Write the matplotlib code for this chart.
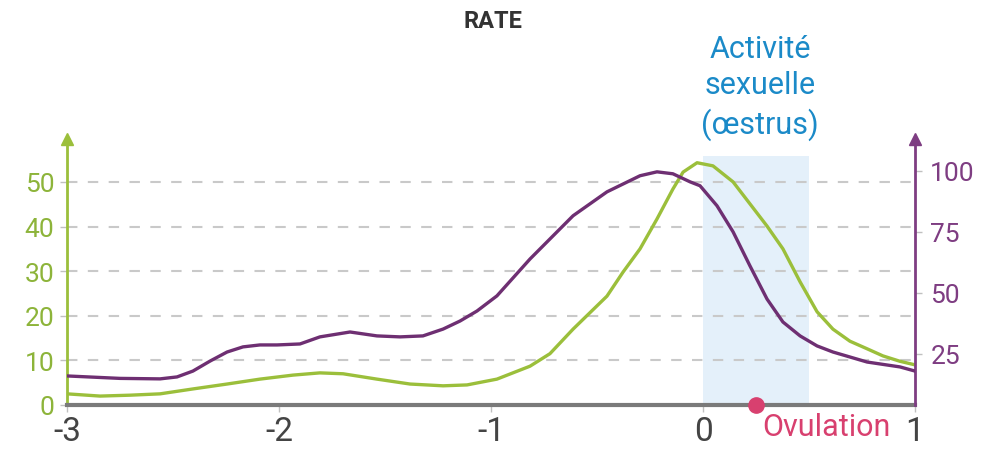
import numpy as np
import matplotlib.pyplot as plt

plt.rcParams['font.family'] = ['Liberation Sans Narrow', 'Roboto', 'DejaVu Sans']

# green curve, read against the left axis
green_x = [-3.000, -2.844, -2.703, -2.561, -2.406, -2.245, -2.090, -1.934, -1.807,
           -1.698, -1.538, -1.382, -1.226, -1.113, -0.972, -0.816, -0.722, -0.613,
           -0.453, -0.377, -0.297, -0.217, -0.142, -0.094, -0.028, 0.047, 0.142,
           0.302, 0.377, 0.458, 0.538, 0.613, 0.693, 0.774, 0.849, 0.929, 1.000]
green_y = [2.5, 2.0, 2.2, 2.5, 3.6, 4.7, 5.8, 6.7, 7.2,
           7.0, 5.8, 4.7, 4.3, 4.5, 5.8, 8.7, 11.5, 17.0,
           24.4, 29.8, 35.0, 41.7, 48.4, 52.2, 54.3, 53.6, 50.0,
           40.1, 35.0, 27.6, 20.9, 17.0, 14.3, 12.6, 11.0, 9.8, 9.0]

# purple curve, read against the right axis
purple_x = [-3.000, -2.750, -2.561, -2.481, -2.406, -2.325, -2.245, -2.170, -2.090,
            -2.009, -1.901, -1.807, -1.665, -1.538, -1.429, -1.321, -1.226, -1.146,
            -1.066, -0.972, -0.816, -0.613, -0.453, -0.297, -0.217, -0.142, -0.061,
            -0.014, 0.066, 0.142, 0.222, 0.302, 0.377, 0.458, 0.538, 0.613, 0.774,
            0.929, 1.000]
purple_y = [16.0, 15.0, 14.8, 15.6, 18.0, 22.1, 25.8, 27.9, 28.7,
            28.7, 29.1, 32.0, 34.0, 32.4, 32.0, 32.4, 35.2, 38.5,
            42.6, 48.8, 63.9, 81.6, 91.4, 98.0, 99.6, 98.8, 95.5,
            93.9, 85.7, 75.0, 61.0, 47.5, 38.1, 32.4, 28.3, 25.8, 21.7,
            19.7, 18.0]

left_ticks = [0, 10, 20, 30, 40, 50]
right_ticks = [25, 50, 75, 100]
x_ticks = [-3, -2, -1, 0, 1]
oestrus = (0.0, 0.5)
ovulation_x = 0.25

c_green = '#9bbf3b'
c_purple = '#6e2f72'
c_axis_p = '#7e3d82'
c_blue = '#1b8ac8'
c_pink = '#d8406f'

fig = plt.figure(figsize=(9.89, 4.52), dpi=100)
ax = fig.add_axes([67/989, 46/452, 848/989, 261/452])
ax2 = ax.twinx()

ax.set_xlim(-3, 1)
ax.set_ylim(0, 58.5)
ax2.set_ylim(4.1, 111)

# shaded oestrus window
top = (406 - 157) / 4.46
ax.fill_between(oestrus, 0, top, color='#e4f0fa', lw=0, zorder=0)

# dashed grid
ax.hlines(left_ticks[1:], -3, 1, colors='#c9c9c9', lw=1.5,
          linestyles=(0, (5, 5)), zorder=1)

ax.plot(green_x, green_y, color=c_green, lw=2.4, zorder=3,
        solid_joinstyle='round')
ax2.plot(purple_x, purple_y, color=c_purple, lw=2.4, zorder=3,
         solid_joinstyle='round')

# ovulation marker
ax.plot([ovulation_x], [0], 'o', color=c_pink, ms=11, clip_on=False, zorder=5)

for s in ['top', 'right']:
    ax.spines[s].set_visible(False)
for s in ['top', 'left', 'bottom']:
    ax2.spines[s].set_visible(False)
ax.spines['left'].set_color(c_green)
ax.spines['left'].set_linewidth(2)
ax.spines['bottom'].set_color('#7a7a7a')
ax.spines['bottom'].set_linewidth(3)
ax2.spines['right'].set_color(c_axis_p)
ax2.spines['right'].set_linewidth(2)

# arrow heads on the vertical axes
ax.plot([0], [1.02], '^', color=c_green, ms=9, transform=ax.transAxes, clip_on=False)
ax2.plot([1], [1.02], '^', color=c_axis_p, ms=9, transform=ax2.transAxes, clip_on=False)

ax.set_xticks(x_ticks)
ax.set_xticklabels([str(v) for v in x_ticks])
ax.tick_params(axis='x', colors='#c0c0c0', labelcolor='#444444', labelsize=24,
               length=5, width=1, pad=2)
ax.set_yticks(left_ticks)
ax.tick_params(axis='y', colors='#c0c0c0', labelcolor='#8db43a', labelsize=19,
               length=5, width=1, pad=4)
ax2.set_yticks(right_ticks)
ax2.tick_params(axis='y', colors='#c0c0c0', labelcolor=c_axis_p, labelsize=19,
                length=5, width=1, pad=6)

fig.text(493/989, 1 - 22/452, 'RATE', ha='center', va='center',
         fontsize=17, fontweight='bold', color='#333333')
fig.text(760/989, 1 - 88/452, 'Activité\nsexuelle\n(œstrus)', ha='center',
         va='center', fontsize=22, color=c_blue, linespacing=1.3)
fig.text(762/989, 1 - 428/452, 'Ovulation', ha='left', va='center',
         fontsize=22, color=c_pink)

fig.savefig('out.png', dpi=100)
